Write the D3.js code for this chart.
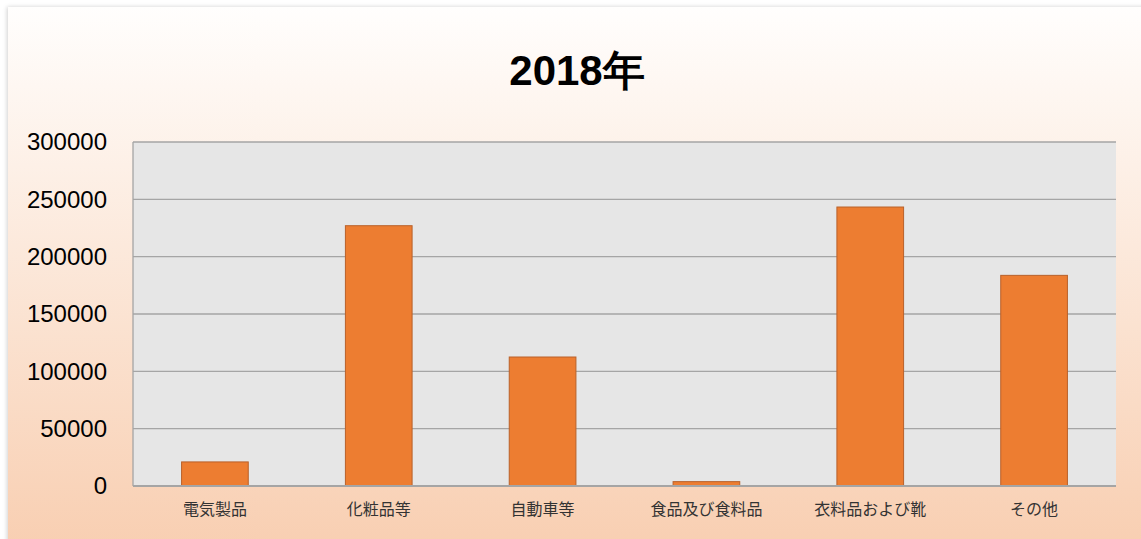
<!DOCTYPE html>
<html>
<head>
<meta charset="utf-8">
<script src="https://cdn.jsdelivr.net/npm/d3@7"></script>
<style>
  html, body { margin: 0; padding: 0; background: #ffffff; }
  svg { display: block; }
</style>
</head>
<body>
<svg id="chart" width="1141" height="539"></svg>
<script>
// 2018年 category totals
const categories = ["電気製品", "化粧品等", "自動車等", "食品及び食料品", "衣料品および靴", "その他"];
const values = [21000, 227000, 112500, 3800, 243300, 183700];
const yTicks = [0, 50000, 100000, 150000, 200000, 250000, 300000];
const title = "2018年";

const svg = d3.select("#chart");
const W = 1141, H = 539;
const plot = { left: 133, right: 1116, top: 142, bottom: 486 };

const defs = svg.append("defs");
const grad = defs.append("linearGradient")
  .attr("id", "cardFill").attr("x1", 0).attr("y1", 0).attr("x2", 0).attr("y2", 1);
grad.append("stop").attr("offset", "0%").attr("stop-color", "#fffefd");
grad.append("stop").attr("offset", "100%").attr("stop-color", "#f8cdaf");

const shadow = defs.append("filter").attr("id", "cardShadow")
  .attr("x", "-5%").attr("y", "-5%").attr("width", "110%").attr("height", "110%");
shadow.append("feDropShadow").attr("dx", -1).attr("dy", 0).attr("stdDeviation", 2)
  .attr("flood-color", "#000").attr("flood-opacity", 0.18);

// chart card
svg.append("rect")
  .attr("x", 8).attr("y", 7).attr("width", W + 20).attr("height", H + 20)
  .attr("fill", "url(#cardFill)")
  .attr("filter", "url(#cardShadow)");

// title
svg.append("text")
  .attr("x", 577).attr("y", 85)
  .attr("text-anchor", "middle")
  .attr("font-family", "Liberation Sans, Arial, sans-serif")
  .attr("font-weight", "bold")
  .attr("font-size", 42)
  .attr("fill", "#000")
  .text(title);

const x = d3.scaleBand().domain(categories).range([plot.left, plot.right]).paddingInner(0.593).paddingOuter(0.2965);
const y = d3.scaleLinear().domain([0, 300000]).range([plot.bottom, plot.top]);

// plot background
svg.append("rect")
  .attr("x", plot.left).attr("y", plot.top)
  .attr("width", plot.right - plot.left).attr("height", plot.bottom - plot.top)
  .attr("fill", "#e6e6e6");

// horizontal gridlines
svg.append("g").selectAll("line").data(yTicks.filter(d => d > 0)).join("line")
  .attr("x1", plot.left).attr("x2", plot.right)
  .attr("y1", d => y(d)).attr("y2", d => y(d))
  .attr("stroke", "#a5a5a5").attr("stroke-width", 1.3);

// left edge of plot
svg.append("line")
  .attr("x1", plot.left).attr("x2", plot.left)
  .attr("y1", plot.top).attr("y2", plot.bottom)
  .attr("stroke", "#a5a5a5").attr("stroke-width", 1.3);

// bars
svg.append("g").selectAll("rect").data(values).join("rect")
  .attr("x", (d, i) => x(categories[i]))
  .attr("y", d => y(d))
  .attr("width", x.bandwidth())
  .attr("height", d => plot.bottom - y(d))
  .attr("fill", "#ed7d31")
  .attr("stroke", "#b9612a")
  .attr("stroke-width", 1);

// baseline axis
svg.append("line")
  .attr("x1", plot.left).attr("x2", plot.right)
  .attr("y1", plot.bottom).attr("y2", plot.bottom)
  .attr("stroke", "#a5a5a5").attr("stroke-width", 2);

// y axis labels
const yAxis = d3.axisLeft(y).tickValues(yTicks).tickSize(0).tickPadding(26).tickFormat(d3.format("d"));
const yg = svg.append("g").attr("transform", `translate(${plot.left},0)`).call(yAxis);
yg.select(".domain").remove();
yg.selectAll("text")
  .attr("font-family", "Liberation Sans, Arial, sans-serif")
  .attr("font-size", 24)
  .attr("fill", "#000");

// x axis labels
const xAxis = d3.axisBottom(x).tickSize(0).tickPadding(18);
const xg = svg.append("g").attr("transform", `translate(0,${plot.bottom})`).call(xAxis);
xg.select(".domain").remove();
xg.selectAll("text")
  .attr("font-family", "Noto Sans CJK JP, sans-serif")
  .attr("font-size", 16)
  .attr("fill", "#333");
</script>
</body>
</html>
